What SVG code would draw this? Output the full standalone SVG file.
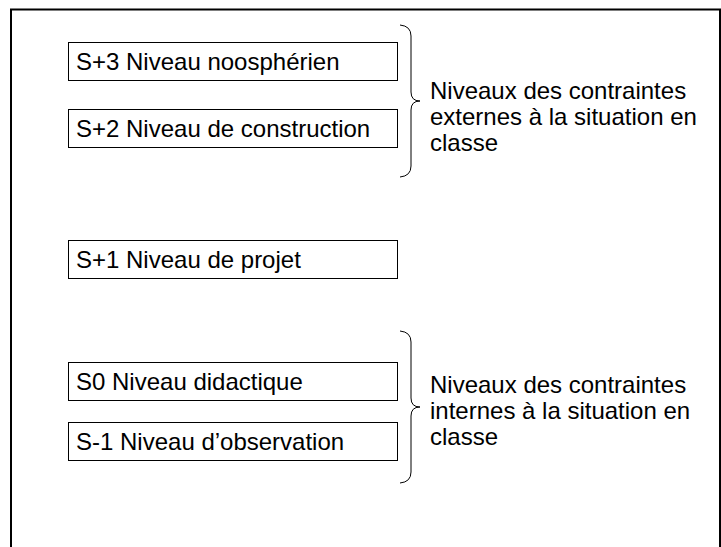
<svg xmlns="http://www.w3.org/2000/svg" width="721" height="547" viewBox="0 0 721 547">
<style>
.box{fill:#fff;stroke:#000;stroke-width:1}
.t{font-family:"Liberation Sans",Arial,sans-serif;font-size:24px;fill:#000}
.brace{fill:none;stroke:#000;stroke-width:1}
</style>
<rect x="0" y="0" width="721" height="547" fill="#fff"/>
<path d="M11,547 V9.5 H720 V547" fill="none" stroke="#000" stroke-width="2"/>
<g id="n1"><rect class="box" x="68.5" y="42.5" width="329" height="38"/><text class="t" x="76" y="70">S+3 Niveau noosphérien</text></g>
<g id="n2"><rect class="box" x="68.5" y="109.5" width="329" height="38"/><text class="t" x="76" y="137">S+2 Niveau de construction</text></g>
<g id="n3"><rect class="box" x="68.5" y="240.5" width="329" height="38"/><text class="t" x="76" y="268">S+1 Niveau de projet</text></g>
<g id="n4"><rect class="box" x="68.5" y="362.5" width="329" height="38"/><text class="t" x="76" y="390">S0 Niveau didactique</text></g>
<g id="n5"><rect class="box" x="68.5" y="422.5" width="329" height="38"/><text class="t" x="76" y="450">S-1 Niveau d’observation</text></g>
<g id="connectors">
<path class="brace" d="M400,25 Q411,26 411,36 V92 Q411,101 420,101 Q411,101 411,110 V166 Q411,176 400,177"/>
<path class="brace" d="M400,331 Q411,332 411,342 V398 Q411,407 420,407 Q411,407 411,416 V472 Q411,482 400,483"/>
</g>
<g id="l1"><text class="t" x="430" y="99">Niveaux des contraintes</text><text class="t" x="430" y="125">externes à la situation en</text><text class="t" x="430" y="151">classe</text></g>
<g id="l2"><text class="t" x="430" y="393">Niveaux des contraintes</text><text class="t" x="430" y="419">internes à la situation en</text><text class="t" x="430" y="445">classe</text></g>
</svg>
